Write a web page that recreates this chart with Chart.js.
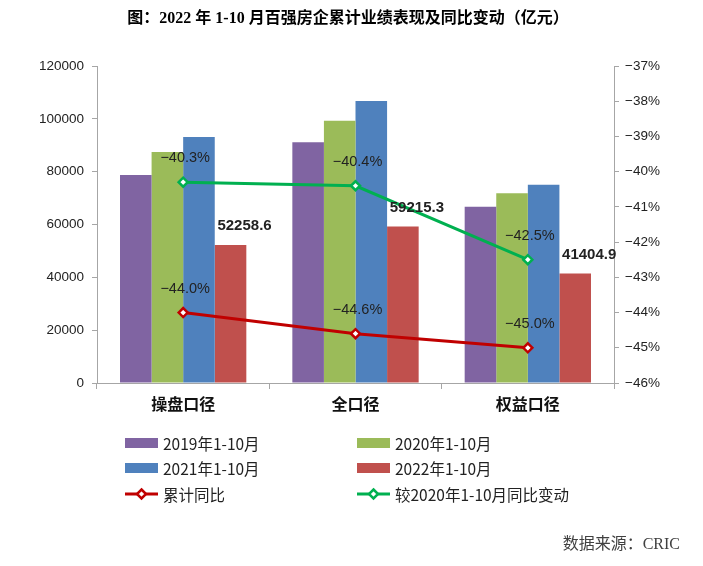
<!DOCTYPE html>
<html>
<head>
<meta charset="utf-8">
<script src="https://cdn.jsdelivr.net/npm/chart.js@4/dist/chart.umd.min.js"></script>
<style>
  html, body { margin: 0; padding: 0; background: #fff; }
  #wrap { position: relative; width: 703px; height: 566px; }
</style>
</head>
<body>
<div id="wrap"><canvas id="c" width="703" height="566"></canvas></div>
<script>
// data
const categories = ['操盘口径', '全口径', '权益口径'];
const barNames = ['2019年1-10月', '2020年1-10月', '2021年1-10月', '2022年1-10月'];
const sales2019 = [78700, 91100, 66750];
const sales2020 = [87400, 99300, 71800];
const sales2021 = [93100, 106750, 75070];
const sales2022 = [52258.6, 59215.3, 41404.9];
const lineNames = ['累计同比', '较2020年1-10月同比变动'];
const yoyTotal = [-44.0, -44.6, -45.0];
const yoyVs2020 = [-40.3, -40.4, -42.5];
const leftTicks = [0, 20000, 40000, 60000, 80000, 100000, 120000];
const rightTicks = [-46, -45, -44, -43, -42, -41, -40, -39, -38, -37];

const barColors = ['#8064a2', '#9bbb59', '#4f81bd', '#c0504d'];
const lineColors = ['#c00000', '#00b050'];
const axisGray = '#a6a6a6';
const textDark = '#222';
const numFont = '"Liberation Sans", Arial, sans-serif';
const cjkFont = '"Noto Sans CJK SC", "Liberation Sans", sans-serif';

const fmtPct = v => '−' + Math.abs(v).toFixed(1) + '%';

// titles, legend, value labels
const decor = {
  id: 'decor',
  afterDraw(chart) {
    const ctx = chart.ctx;
    ctx.save();

    // title
    ctx.fillStyle = '#000';
    ctx.font = 'bold 16px "Liberation Serif", "Noto Sans CJK SC", serif';
    ctx.textAlign = 'center';
    ctx.textBaseline = 'middle';
    ctx.fillText('图：2022 年 1-10 月百强房企累计业绩表现及同比变动（亿元）', 348, 19);

    // values on red bars
    ctx.font = 'bold 15px ' + numFont;
    ctx.fillStyle = textDark;
    chart.getDatasetMeta(3).data.forEach((bar, i) => {
      ctx.fillText(String(sales2022[i]), bar.x + 14, bar.y - 19);
    });

    // values on lines
    ctx.font = '14.5px ' + numFont;
    [yoyTotal, yoyVs2020].forEach((arr, k) => {
      chart.getDatasetMeta(4 + k).data.forEach((pt, i) => {
        ctx.fillText(fmtPct(arr[i]), pt.x + 2, pt.y - 24);
      });
    });

    // legend
    const rows = [443, 468, 494];
    const cols = [125, 357];
    ctx.font = '15.5px ' + cjkFont;
    ctx.textAlign = 'left';
    barNames.forEach((name, i) => {
      const x = cols[i % 2], y = rows[Math.floor(i / 2)];
      ctx.fillStyle = barColors[i];
      ctx.fillRect(x, y - 5, 33, 10);
      ctx.fillStyle = textDark;
      ctx.fillText(name, x + 38, y + 1);
    });
    lineNames.forEach((name, i) => {
      const x = cols[i], y = rows[2];
      ctx.strokeStyle = lineColors[i];
      ctx.lineWidth = 3;
      ctx.beginPath();
      ctx.moveTo(x, y);
      ctx.lineTo(x + 33, y);
      ctx.stroke();
      const cx = x + 16.5, r = 4.5;
      ctx.beginPath();
      ctx.moveTo(cx, y - r);
      ctx.lineTo(cx + r, y);
      ctx.lineTo(cx, y + r);
      ctx.lineTo(cx - r, y);
      ctx.closePath();
      ctx.fillStyle = '#fff';
      ctx.fill();
      ctx.lineWidth = 2.5;
      ctx.stroke();
      ctx.fillStyle = textDark;
      ctx.fillText(name, x + 38, y + 1);
    });

    // source
    ctx.fillStyle = '#404040';
    ctx.font = '16px "Liberation Serif", "Noto Sans CJK SC", serif';
    ctx.textAlign = 'right';
    ctx.fillText('数据来源：CRIC', 680, 545);

    ctx.restore();
  }
};

const barSets = [sales2019, sales2020, sales2021, sales2022].map((d, i) => ({
  type: 'bar',
  label: barNames[i],
  data: d,
  backgroundColor: barColors[i],
  yAxisID: 'y',
  order: 1,
  categoryPercentage: 0.733,
  barPercentage: 1
}));

const lineSets = [yoyTotal, yoyVs2020].map((d, i) => ({
  type: 'line',
  label: lineNames[i],
  data: d,
  borderColor: lineColors[i],
  borderWidth: 3,
  pointStyle: 'rectRot',
  pointRadius: 4.5,
  pointBorderWidth: 2.5,
  pointBackgroundColor: '#fff',
  pointBorderColor: lineColors[i],
  yAxisID: 'y2',
  order: 0
}));

new Chart(document.getElementById('c'), {
  type: 'bar',
  data: { labels: categories, datasets: [...barSets, ...lineSets] },
  options: {
    responsive: false,
    devicePixelRatio: 1,
    animation: false,
    layout: { padding: { top: 66, left: 0, right: 0, bottom: 0 } },
    plugins: { legend: { display: false }, title: { display: false }, tooltip: { enabled: false } },
    scales: {
      x: {
        offset: true,
        grid: { drawOnChartArea: false, tickLength: 6, color: axisGray, offset: true },
        border: { color: axisGray },
        ticks: { color: '#111', padding: 5, font: { family: cjkFont, size: 16, weight: 'bold' } },
        afterFit(s) { s.height = 183; }
      },
      y: {
        position: 'left',
        min: leftTicks[0],
        max: leftTicks[leftTicks.length - 1],
        afterBuildTicks(s) { s.ticks = leftTicks.map(v => ({ value: v })); },
        grid: { drawOnChartArea: false, tickLength: 5, color: axisGray },
        border: { color: axisGray },
        ticks: {
          color: textDark, padding: 8, font: { family: numFont, size: 13.5 },
          callback: v => String(v)
        },
        afterFit(s) { s.width = 97; }
      },
      y2: {
        position: 'right',
        min: rightTicks[0],
        max: rightTicks[rightTicks.length - 1],
        afterBuildTicks(s) { s.ticks = rightTicks.map(v => ({ value: v })); },
        grid: { drawOnChartArea: false, tickLength: 5, color: axisGray },
        border: { color: axisGray },
        ticks: {
          color: textDark, padding: 6, font: { family: numFont, size: 13.5 },
          callback: v => '−' + Math.abs(v) + '%'
        },
        afterFit(s) { s.width = 89; }
      }
    }
  },
  plugins: [decor]
});
</script>
</body>
</html>
